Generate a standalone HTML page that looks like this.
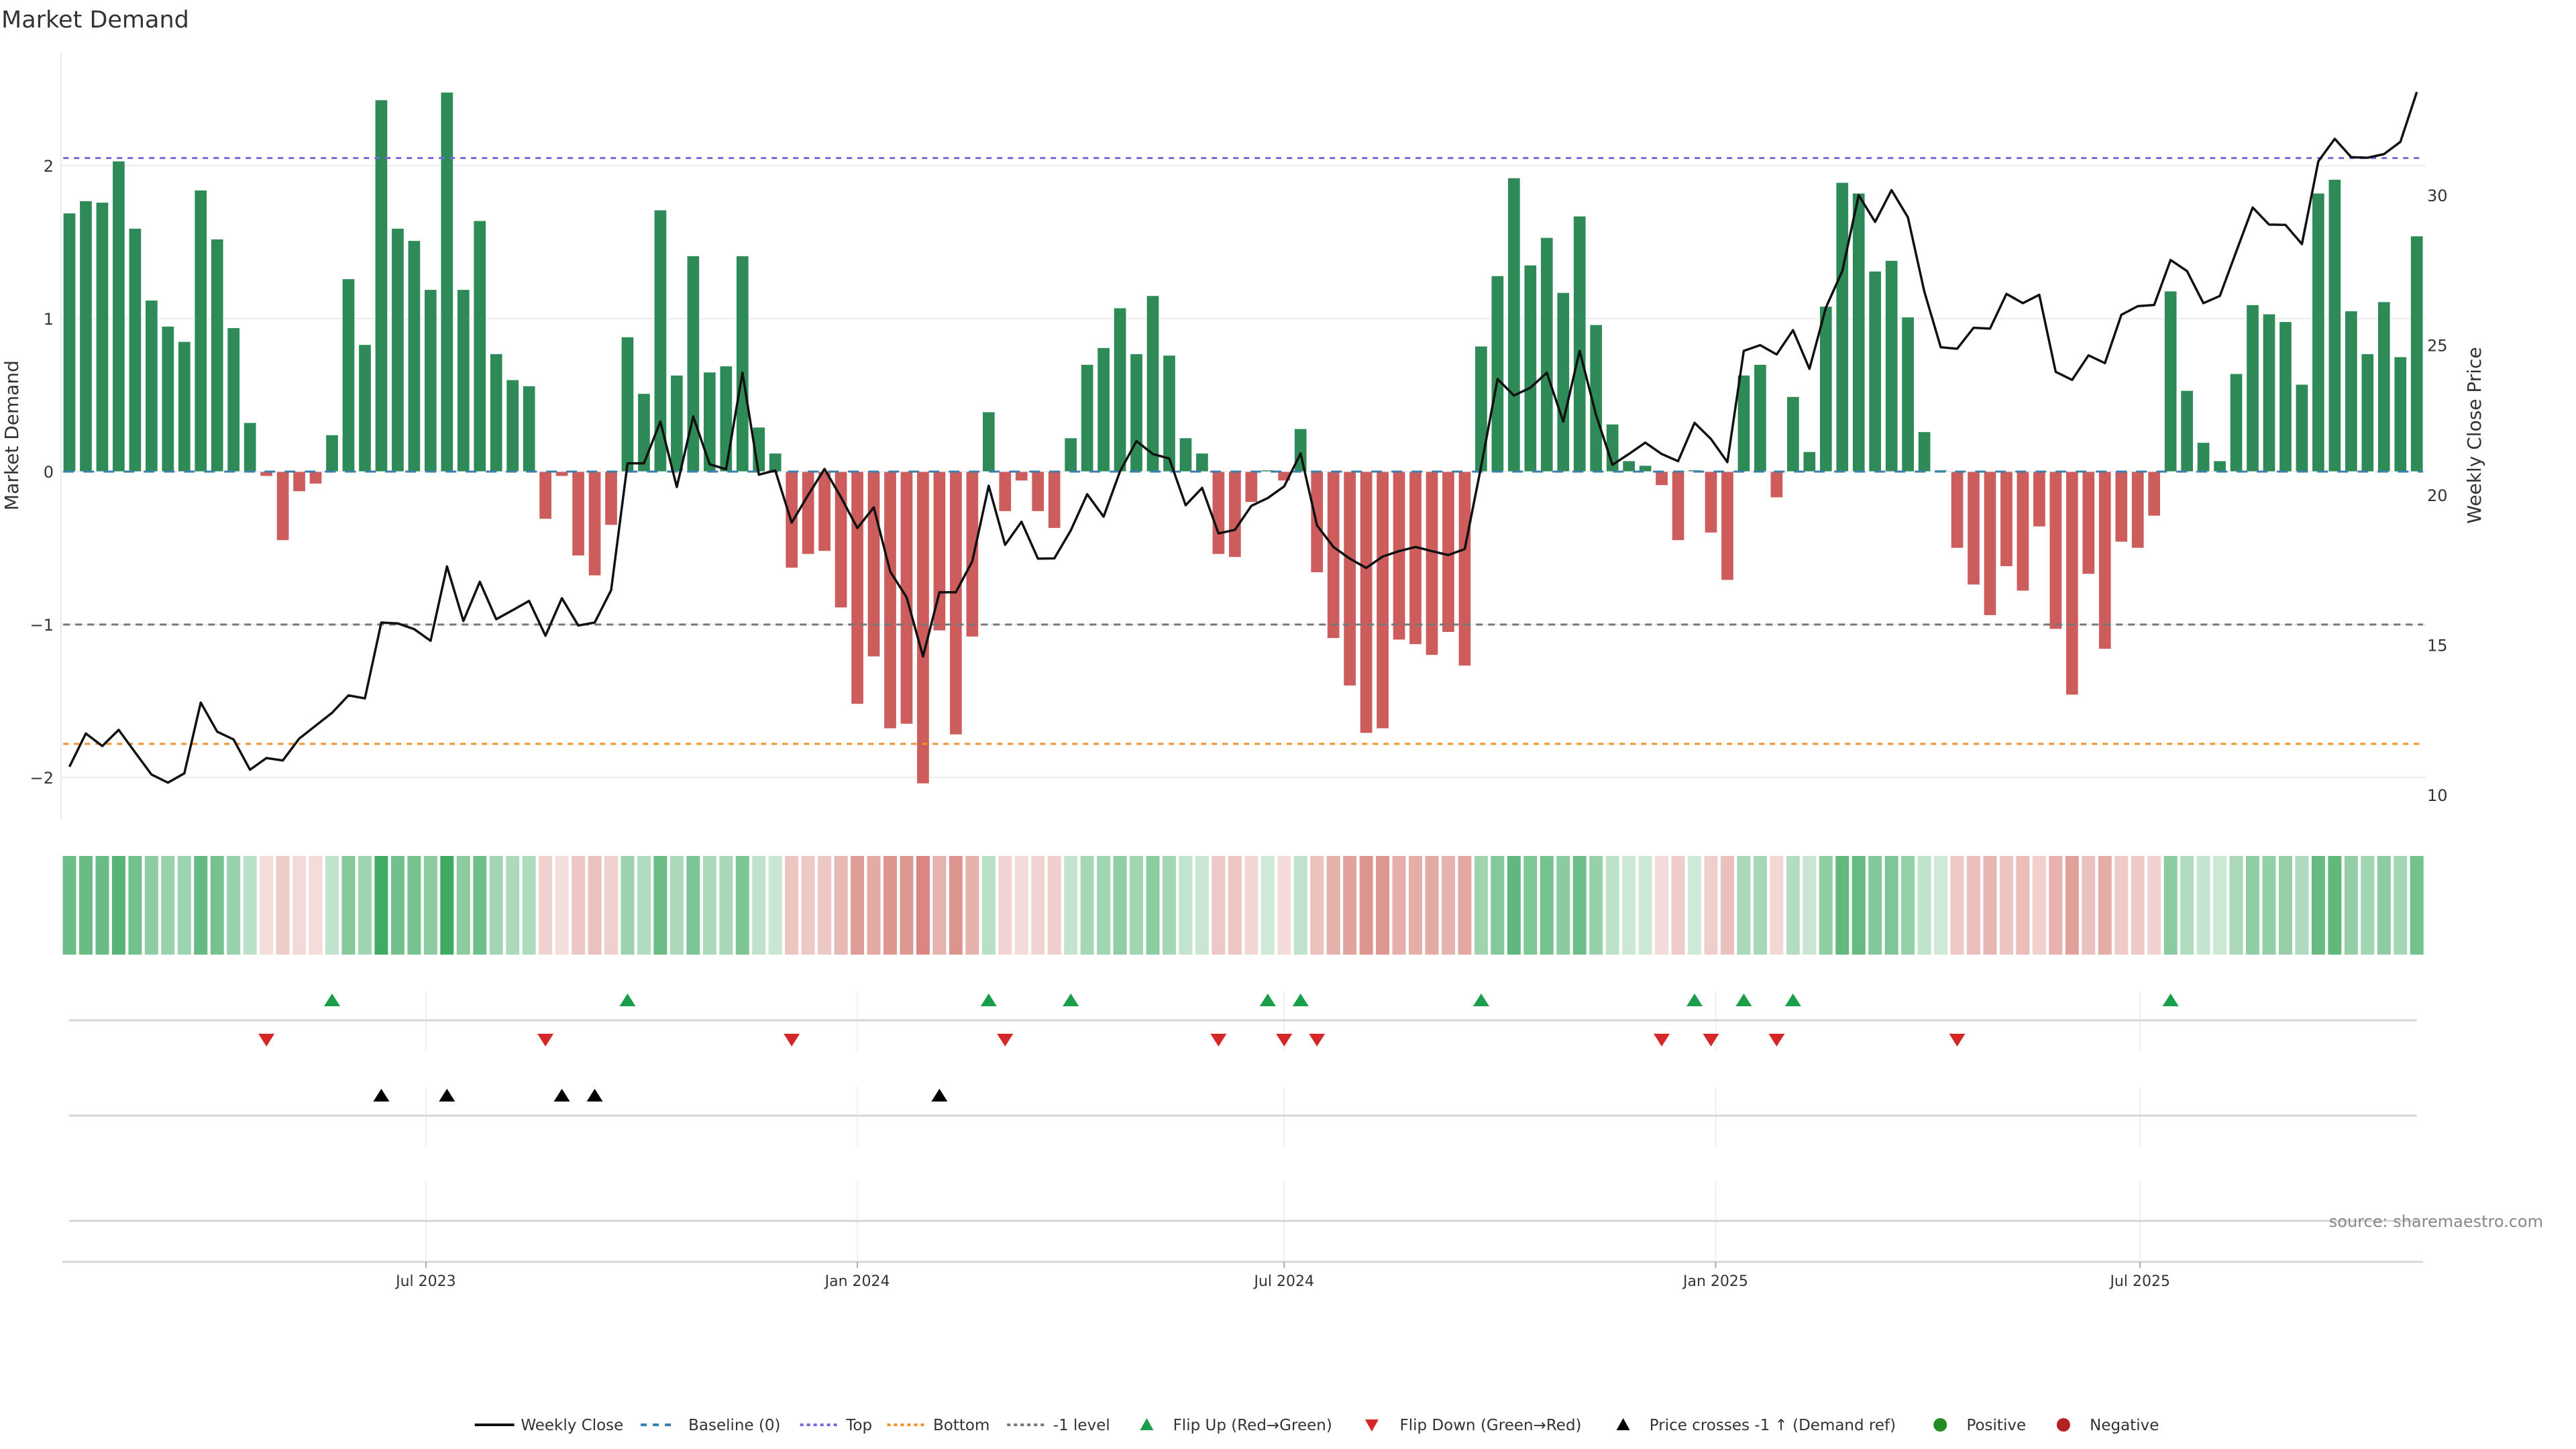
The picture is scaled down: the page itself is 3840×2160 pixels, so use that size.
<!DOCTYPE html>
<html><head><meta charset="utf-8"><title>Market Demand</title>
<style>
html,body{margin:0;padding:0;background:#fff;}
svg{display:block;font-family:"DejaVu Sans","Liberation Sans",sans-serif;}
</style></head>
<body>
<svg id="chart" width="3840" height="2160" viewBox="0 0 3840 2160" xmlns="http://www.w3.org/2000/svg">
<rect width="3840" height="2160" fill="#fff"/>
<text x="2" y="41" font-size="35" fill="#333">Market Demand</text>
<g id="main"></g>
<g id="heat"></g>
<g id="events"></g>
<g id="xaxis"></g>
<text x="3791" y="1829" font-size="24" fill="#888" text-anchor="end">source: sharemaestro.com</text>
<g id="legend"></g>
</svg>
<script>
const demand = [1.69,1.77,1.76,2.03,1.59,1.12,0.95,0.85,1.84,1.52,0.94,0.32,-0.03,-0.45,-0.13,-0.08,0.24,1.26,0.83,2.43,1.59,1.51,1.19,2.48,1.19,1.64,0.77,0.60,0.56,-0.31,-0.03,-0.55,-0.68,-0.35,0.88,0.51,1.71,0.63,1.41,0.65,0.69,1.41,0.29,0.12,-0.63,-0.54,-0.52,-0.89,-1.52,-1.21,-1.68,-1.65,-2.04,-1.04,-1.72,-1.08,0.39,-0.26,-0.06,-0.26,-0.37,0.22,0.70,0.81,1.07,0.77,1.15,0.76,0.22,0.12,-0.54,-0.56,-0.20,0.01,-0.06,0.28,-0.66,-1.09,-1.40,-1.71,-1.68,-1.10,-1.13,-1.20,-1.05,-1.27,0.82,1.28,1.92,1.35,1.53,1.17,1.67,0.96,0.31,0.07,0.04,-0.09,-0.45,0.01,-0.40,-0.71,0.63,0.70,-0.17,0.49,0.13,1.08,1.89,1.82,1.31,1.38,1.01,0.26,0.01,-0.50,-0.74,-0.94,-0.62,-0.78,-0.36,-1.03,-1.46,-0.67,-1.16,-0.46,-0.50,-0.29,1.18,0.53,0.19,0.07,0.64,1.09,1.03,0.98,0.57,1.82,1.91,1.05,0.77,1.11,0.75,1.54];
const price = [10.94,12.05,11.63,12.17,11.42,10.68,10.41,10.72,13.08,12.11,11.85,10.84,11.23,11.15,11.88,12.31,12.74,13.32,13.22,15.75,15.72,15.53,15.14,17.62,15.80,17.11,15.86,16.16,16.47,15.31,16.56,15.65,15.75,16.83,21.06,21.06,22.45,20.27,22.62,21.03,20.86,24.08,20.68,20.82,19.08,20.0,20.87,19.93,18.90,19.59,17.45,16.59,14.62,16.76,16.76,17.79,20.31,18.34,19.11,17.88,17.89,18.82,20.03,19.28,20.79,21.80,21.37,21.22,19.66,20.24,18.72,18.84,19.64,19.90,20.29,21.39,18.99,18.27,17.88,17.57,17.95,18.13,18.27,18.13,18.00,18.20,20.96,23.87,23.32,23.58,24.08,22.45,24.81,22.67,21.01,21.37,21.75,21.37,21.13,22.41,21.87,21.10,24.81,25.00,24.69,25.50,24.21,26.25,27.47,30.0,29.11,30.17,29.26,26.78,24.93,24.88,25.58,25.55,26.71,26.40,26.68,24.11,23.84,24.66,24.40,26.01,26.30,26.34,27.84,27.47,26.40,26.64,28.12,29.59,29.02,29.01,28.37,31.13,31.88,31.27,31.25,31.37,31.78,33.44];
const leftTicks = [-2,-1,0,1,2];
const rightTicks = [10,15,20,25,30];
const refLevels = [2.05,-1.78,-1.0];
const priceRef = [15.68];
const xTickLabels = ["Jul 2023","Jan 2024","Jul 2024","Jan 2025","Jul 2025"];
const xTickDates = ["2023-07-01","2024-01-01","2024-07-01","2025-01-01","2025-07-01"];
const startDate = ["2023-01-30"];

const NS="http://www.w3.org/2000/svg";
function mk(tag,attrs,parent){const e=document.createElementNS(NS,tag);for(const k in attrs)e.setAttribute(k,attrs[k]);parent.appendChild(e);return e;}
const X0=103.5, STEP=24.47, BW=18.5;
const xi=i=>X0+i*STEP;
const yL=v=>703-v*228;
const yR=p=>738-(p-20)*44.7;
const t0=new Date(startDate[0]).getTime();
const xd=s=>X0+((new Date(s).getTime()-t0)/86400000/7)*STEP;

const main=document.getElementById('main');
leftTicks.forEach(v=>{
  const g=mk('line',{x1:91,x2:3616,y1:yL(v),y2:yL(v),stroke:'#ececec','stroke-width':2},main);
  
  
  const t=mk('text',{x:80,y:yL(v)+9,'font-size':24,fill:'#333','text-anchor':'end'},main);
  t.textContent=v<0?'\u2212'+Math.abs(v):String(v);
  
  
});
rightTicks.forEach(p=>{
  const t=mk('text',{x:3618,y:yR(p)+9,'font-size':24,fill:'#333'},main);
  t.textContent=String(p);
  
  
});
const ax=mk('line',{x1:91,x2:91,y1:78,y2:1222,stroke:'#ececec','stroke-width':2},main);


const yt=mk('text',{x:0,y:0,'font-size':28,fill:'#333','text-anchor':'middle',transform:'translate(27,649) rotate(-90)'},main);
yt.textContent='Market Demand';


const yt2=mk('text',{x:0,y:0,'font-size':28,fill:'#333','text-anchor':'middle',transform:'translate(3698,649) rotate(-90)'},main);
yt2.textContent='Weekly Close Price';


demand.forEach((v,i)=>{
  const y=Math.min(yL(0),yL(v)),h=Math.abs(yL(v)-yL(0));
  const b=mk('rect',{x:xi(i)-BW/2,y:y,width:BW,height:Math.max(h,0.5),fill:v>=0?'#2e8b57':'#cd5c5c',stroke:'#fff','stroke-width':0.8},main);
  
  
});
const x1=xi(0)-BW/2,x2=xi(demand.length-1)+BW/2;
const base=mk('line',{x1:x1,x2:x2,y1:yL(0),y2:yL(0),stroke:'#3a7fb0','stroke-width':3,'stroke-dasharray':'16 14'},main);


const refCols=['#7b68d8','#f0922b','#777'];
const refDash=['8 8','8 8','10 8'];
const refNames=['top-line','bottom-line','minus-one-level'];
refLevels.forEach((v,k)=>{
  const l=mk('line',{x1:x1,x2:x2,y1:yL(v),y2:yL(v),stroke:refCols[k],'stroke-width':3,'stroke-dasharray':refDash[k]},main);
  
  
});
const pl=mk('polyline',{points:price.map((p,i)=>xi(i)+','+yR(p)).join(' '),fill:'none',stroke:'#111','stroke-width':3.5,'stroke-linejoin':'round'},main);



const heat=document.getElementById('heat');
demand.forEach((v,i)=>{
  let c;
  if(v>=0){const a=0.22+0.68*Math.min(v/2.5,1);c=`rgb(${255-215*a|0},${255-95*a|0},${255-175*a|0})`;}
  else{const a=0.18+0.52*Math.min(-v/2.1,1);c=`rgb(${255-55*a|0},${255-175*a|0},${255-185*a|0})`;}
  const r=mk('rect',{x:xi(i)-10,y:1276,width:20,height:147,fill:c},heat);
  
  
});

const ev=document.getElementById('events');
[[1478,1566],[1620,1708],[1762,1881]].forEach(rg=>{
  xTickDates.forEach(d=>{
    const g=mk('line',{x1:xd(d),x2:xd(d),y1:rg[0],y2:rg[1],stroke:'#eef0f3','stroke-width':2},ev);
    
    
  });
});
[1521,1663,1820].forEach(y=>{
  const l=mk('line',{x1:103,x2:3603,y1:y,y2:y,stroke:'#d6d6d6','stroke-width':3},ev);
  
  
});
function tri(x,y,up,col,name){
  const pts=up?`${x-12},${y+9} ${x+12},${y+9} ${x},${y-10}`:`${x-12},${y-9} ${x+12},${y-9} ${x},${y+10}`;
  const t=mk('polygon',{points:pts,fill:col},ev);
  
  
}
for(let i=1;i<demand.length;i++){
  if(demand[i-1]<0&&demand[i]>=0)tri(xi(i),1491,true,'#1a9e4a','flip-up-marker');
  if(demand[i-1]>=0&&demand[i]<0)tri(xi(i),1550,false,'#d62728','flip-down-marker');
  if(price[i-1]<priceRef[0]&&price[i]>=priceRef[0])tri(xi(i),1633,true,'#000','price-cross-marker');
}

const xa=document.getElementById('xaxis');
const axl=mk('line',{x1:93,x2:3612,y1:1881,y2:1881,stroke:'#d6d6d6','stroke-width':3},xa);


xTickDates.forEach((d,k)=>{
  const tk=mk('line',{x1:xd(d),x2:xd(d),y1:1881,y2:1890,stroke:'#aaa','stroke-width':2},xa);
  
  
  const t=mk('text',{x:xd(d),y:1917,'font-size':22,fill:'#333','text-anchor':'middle'},xa);
  t.textContent=xTickLabels[k];
  
  
});

const lg=document.getElementById('legend');
const LY=2124,S=2.449;
function ltext(x,s,name){const t=mk('text',{x:x*S,y:LY+8,'font-size':23,fill:'#333'},lg);t.textContent=s;}
function lline(xa_,xb,col,dash,w,name){const l=mk('line',{x1:xa_*S,x2:xb*S,y1:LY,y2:LY,stroke:col,'stroke-width':w,'stroke-dasharray':dash},lg);}
lline(289,313,'#111','none',4,'legend-weekly-close-swatch');ltext(317,'Weekly Close','legend-weekly-close');
lline(390,412,'#3a7fb0','9 9',4,'legend-baseline-swatch');ltext(419,'Baseline (0)','legend-baseline');
lline(487,510,'#7b68d8','5 5',4,'legend-top-swatch');ltext(515,'Top','legend-top');
lline(540,563,'#f0922b','5 5',4,'legend-bottom-swatch');ltext(568,'Bottom','legend-bottom');
lline(613,636,'#777','5 5',4,'legend-minus-one-swatch');ltext(641,'-1 level','legend-minus-one');
function ltri(x,up,col,name){x*=S;const pts=up?`${x-10},${LY+8} ${x+10},${LY+8} ${x},${LY-10}`:`${x-10},${LY-8} ${x+10},${LY-8} ${x},${LY+10}`;const t=mk('polygon',{points:pts,fill:col},lg);}
ltri(698,true,'#1a9e4a','legend-flip-up-swatch');ltext(714,'Flip Up (Red\u2192Green)','legend-flip-up');
ltri(835,false,'#d62728','legend-flip-down-swatch');ltext(852,'Flip Down (Green\u2192Red)','legend-flip-down');
ltri(988,true,'#000','legend-price-cross-swatch');ltext(1004,'Price crosses -1 \u2191 (Demand ref)','legend-price-cross');
const c1=mk('circle',{cx:1181*S,cy:LY,r:10,fill:'#228b22'},lg);
ltext(1197,'Positive','legend-positive');
const c2=mk('circle',{cx:1256*S,cy:LY,r:10,fill:'#b22222'},lg);
ltext(1272,'Negative','legend-negative');
</script>
</body></html>
